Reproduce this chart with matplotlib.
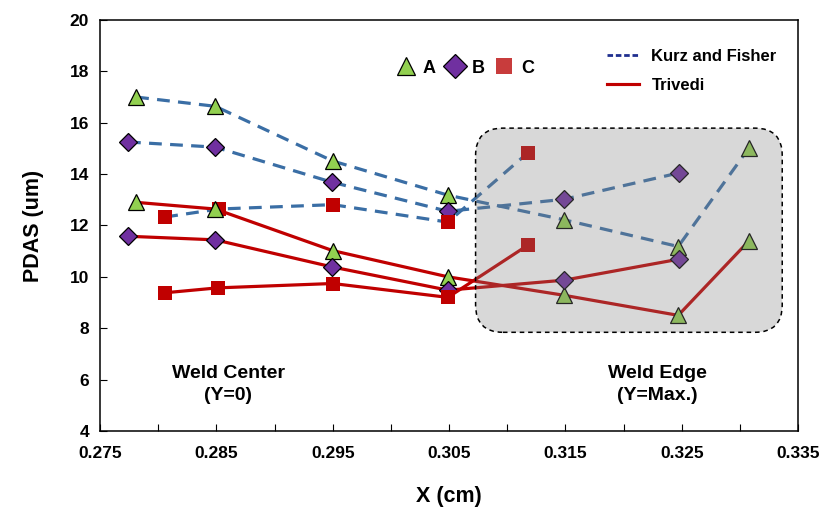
import matplotlib
matplotlib.use("Agg")
import matplotlib.pyplot as plt
from matplotlib.lines import Line2D
from matplotlib.patches import FancyBboxPatch

plt.rcParams['font.family'] = ['Liberation Sans', 'DejaVu Sans']
plt.rcParams['font.weight'] = 'bold'

# ---- data ----
kf_a_x = [0.2781, 0.2849, 0.2950, 0.3049, 0.3149, 0.3247, 0.3308]
kf_a_y = [17.00, 16.64, 14.51, 13.18, 12.22, 11.18, 15.03]
kf_b_x = [0.2774, 0.2849, 0.2949, 0.3049, 0.3149, 0.3248]
kf_b_y = [15.25, 15.05, 13.69, 12.55, 13.02, 14.05]
kf_c_x = [0.2806, 0.2852, 0.2950, 0.3049, 0.3118]
kf_c_y = [12.33, 12.64, 12.81, 12.13, 14.84]

tr_a_x = [0.2781, 0.2849, 0.2950, 0.3049, 0.3149, 0.3247, 0.3308]
tr_a_y = [12.90, 12.64, 11.02, 10.00, 9.28, 8.50, 11.41]
tr_b_x = [0.2774, 0.2849, 0.2949, 0.3049, 0.3149, 0.3248]
tr_b_y = [11.58, 11.44, 10.39, 9.48, 9.87, 10.69]
tr_c_x = [0.2806, 0.2851, 0.2950, 0.3049, 0.3118]
tr_c_y = [9.38, 9.57, 9.74, 9.20, 11.24]

x_ticks = [0.275, 0.285, 0.295, 0.305, 0.315, 0.325, 0.335]
y_ticks = [4, 6, 8, 10, 12, 14, 16, 18, 20]
box_x = (0.30728, 0.33364)
box_y = (7.84, 15.79)

# ---- style ----
blue = '#3A6EA5'
red = '#C00000'
green = '#92D050'
purple = '#7030A0'

mk_a = dict(marker='^', ms=11, mfc=green, mec='black', mew=0.9)
mk_b = dict(marker='D', ms=8.8, mfc=purple, mec='black', mew=0.9)
mk_c = dict(marker='s', ms=9.4, mfc=red, mec=red, mew=0)

fig = plt.figure(figsize=(8.27, 5.13), dpi=100)
ax = fig.add_axes([0.121, 0.160, 0.844, 0.801])

dash = dict(ls=(0, (4, 2.6)), lw=2.3, color=blue)
ax.plot(kf_a_x, kf_a_y, **dash, **mk_a, zorder=3)
ax.plot(kf_b_x, kf_b_y, **dash, **mk_b, zorder=3)
ax.plot(kf_c_x, kf_c_y, **dash, **mk_c, zorder=3)
solid = dict(ls='-', lw=2.3, color=red)
ax.plot(tr_a_x, tr_a_y, **solid, **mk_a, zorder=4)
ax.plot(tr_b_x, tr_b_y, **solid, **mk_b, zorder=4)
ax.plot(tr_c_x, tr_c_y, **solid, **mk_c, zorder=4)

ax.set_xlim(0.275, 0.335)
ax.set_ylim(4, 20)

# rounded grey region (overlay)
rx = 0.00235
ry = 1.07
box = FancyBboxPatch((box_x[0], box_y[0]), box_x[1] - box_x[0], box_y[1] - box_y[0],
                     boxstyle=f"round,pad=0,rounding_size={rx}",
                     mutation_aspect=ry / rx,
                     facecolor=(0.5, 0.5, 0.5), alpha=0.3, edgecolor='none', zorder=6)
ax.add_patch(box)
box_edge = FancyBboxPatch((box_x[0], box_y[0]), box_x[1] - box_x[0], box_y[1] - box_y[0],
                          boxstyle=f"round,pad=0,rounding_size={rx}",
                          mutation_aspect=ry / rx,
                          facecolor='none', edgecolor='black', lw=1.1,
                          ls=(0, (3, 2.5)), zorder=7)
ax.add_patch(box_edge)

# ticks
ax.set_xticks(x_ticks)
ax.set_xticklabels([f"{v:.3f}" for v in x_ticks])
ax.set_xticks([0.280, 0.290, 0.300, 0.310, 0.320, 0.330], minor=True)
ax.set_yticks(y_ticks)
ax.tick_params(axis='x', which='both', direction='in', length=5, width=0.8,
               labelsize=12.5, pad=11, top=False)
ax.tick_params(axis='y', direction='in', length=5, width=0.8, labelsize=12.5,
               pad=8, right=False)
for lab in ax.get_xticklabels() + ax.get_yticklabels():
    lab.set_fontweight('bold')
for sp in ax.spines.values():
    sp.set_linewidth(1.1)

ax.set_xlabel('X (cm)', fontsize=15.5, fontweight='bold', labelpad=18)
ax.set_ylabel('PDAS (um)', fontsize=15.5, fontweight='bold', labelpad=18)

ax.text(0.2860, 5.8, 'Weld Center\n(Y=0)', ha='center', va='center',
        fontsize=14, fontweight='bold', linespacing=1.35, zorder=8)
ax.text(0.3229, 5.8, 'Weld Edge\n(Y=Max.)', ha='center', va='center',
        fontsize=14, fontweight='bold', linespacing=1.35, zorder=8)

# legends
h_mk = [Line2D([], [], ls='none', marker='^', ms=13, mfc=green, mec='black', mew=0.9),
        Line2D([], [], ls='none', marker='D', ms=12, mfc=purple, mec='black', mew=0.9),
        Line2D([], [], ls='none', marker='s', ms=12, mfc='#C83C3C', mec='#C83C3C', mew=0)]
leg1 = ax.legend(h_mk, ['A', 'B', 'C'], loc='center', bbox_to_anchor=(0.522, 0.883),
                 ncol=3, frameon=False, handletextpad=0.35, columnspacing=0.45,
                 handlelength=1.2, prop=dict(size=13, weight='bold'))
ax.add_artist(leg1)
h_ln = [Line2D([], [], color='#1F2F8F', lw=2, ls=(0, (2, 1))),
        Line2D([], [], color=red, lw=2.25)]
ax.legend(h_ln, ['Kurz and Fisher', 'Trivedi'], loc='center', bbox_to_anchor=(0.848, 0.876),
          frameon=False, handlelength=1.9, handletextpad=0.75, labelspacing=0.8,
          prop=dict(size=12, weight='bold'))

fig.savefig('out.png', dpi=100)
